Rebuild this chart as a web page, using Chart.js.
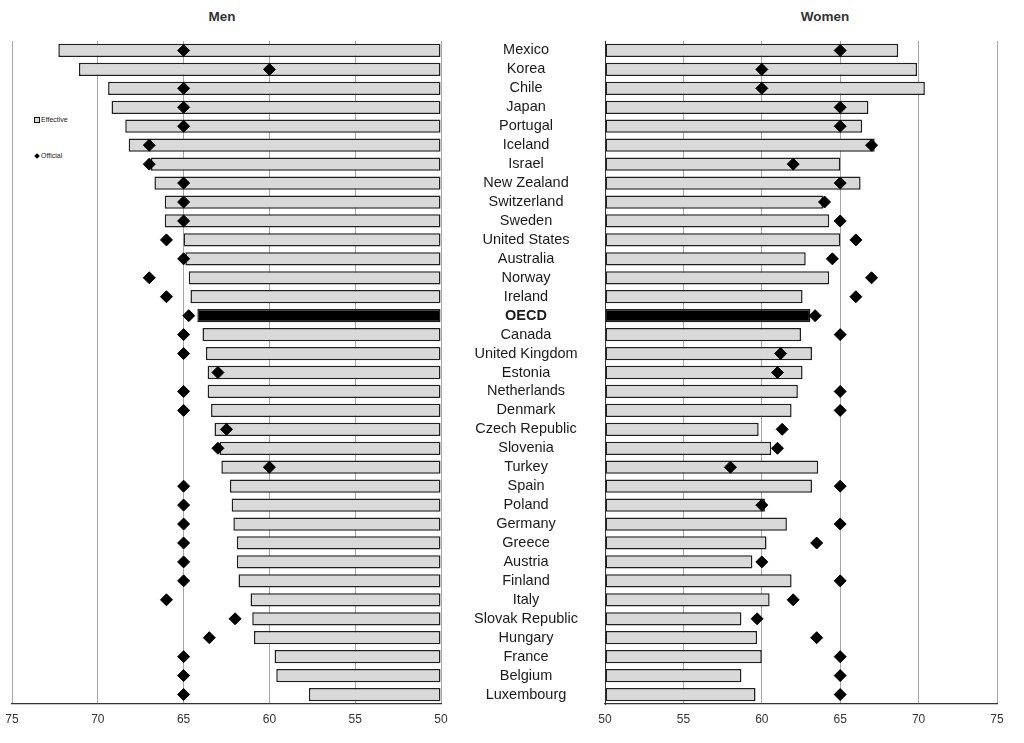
<!DOCTYPE html>
<html>
<head>
<meta charset="utf-8">
<script src="https://cdn.jsdelivr.net/npm/chart.js@4.4.1/dist/chart.umd.min.js"></script>
<style>
  html, body { margin: 0; padding: 0; background: #fff; width: 1024px; height: 743px; overflow: hidden; }
  body { position: relative; font-family: 'Liberation Sans', Arial, sans-serif; }
  .box { position: absolute; top: 0; height: 743px; }
  #menBox { left: 0; width: 460px; }
  #womenBox { left: 445px; width: 579px; }
  .title { position: absolute; top: 9px; font-weight: bold; font-size: 13.5px; color: #333; transform: translateX(-50%); white-space: nowrap; }
  .leg { position: absolute; font-size: 7px; color: #222; white-space: nowrap; line-height: 8px; }
  .sq { display: inline-block; width: 4px; height: 4px; border: 1px solid #111; background: #d9d9d9; margin-right: 1px; vertical-align: middle; }
  .dm { display: inline-block; width: 4px; height: 4px; background: #000; transform: rotate(45deg); margin-right: 2px; margin-left: 1px; vertical-align: middle; }
</style>
</head>
<body>
<div class="title" style="left:222px;">Men</div>
<div class="title" style="left:825px;">Women</div>
<div class="leg" style="left:34px; top:116px;"><span class="sq"></span>Effective</div>
<div class="leg" style="left:34px; top:152px;"><span class="dm"></span>Official</div>
<div class="box" id="menBox"><canvas id="men"></canvas></div>
<div class="box" id="womenBox"><canvas id="women"></canvas></div>
<script>
const categories = ["Mexico","Korea","Chile","Japan","Portugal","Iceland","Israel","New Zealand","Switzerland","Sweden","United States","Australia","Norway","Ireland","OECD","Canada","United Kingdom","Estonia","Netherlands","Denmark","Czech Republic","Slovenia","Turkey","Spain","Poland","Germany","Greece","Austria","Finland","Italy","Slovak Republic","Hungary","France","Belgium","Luxembourg"];

const menEffective = [72.3,71.1,69.4,69.2,68.4,68.2,66.9,66.7,66.1,66.1,65.0,64.9,64.7,64.6,64.2,63.9,63.7,63.6,63.6,63.4,63.2,62.9,62.8,62.3,62.2,62.1,61.9,61.9,61.8,61.1,61.0,60.9,59.7,59.6,57.7];
const menOfficial = [65,60,65,65,65,67,67,65,65,65,66,65,67,66,64.7,65,65,63,65,65,62.5,63,60,65,65,65,65,65,65,66,62,63.5,65,65,65];

const womenEffective = [68.7,69.9,70.4,66.8,66.4,67.2,65.0,66.3,63.9,64.3,65.0,62.8,64.3,62.6,63.1,62.5,63.2,62.6,62.3,61.9,59.8,60.6,63.6,63.2,60.2,61.6,60.3,59.4,61.9,60.5,58.7,59.7,60.0,58.7,59.6];
const womenOfficial = [65,60,60,65,65,67,62,65,64,65,66,64.5,67,66,63.4,65,61.2,61,65,65,61.3,61,58,65,60,65,63.5,60,65,62,59.7,63.5,65,65,65];

const ageTicks = [50,55,60,65,70,75];
const seriesNames = ["Effective","Official"];

Chart.defaults.font.family = "'Liberation Sans', Arial, sans-serif";
Chart.defaults.animation = false;

function datasets(eff, off) {
  return [
    {
      type: 'bar',
      label: seriesNames[0],
      data: eff,
      base: 50,
      backgroundColor: ctx => categories[ctx.dataIndex] === 'OECD' ? '#000000' : '#d9d9d9',
      borderColor: '#1f1f1f',
      borderWidth: 1.5,
      borderSkipped: false,
      barPercentage: 0.7,
      categoryPercentage: 1.0,
      order: 2
    },
    {
      type: 'line',
      label: seriesNames[1],
      data: off,
      showLine: false,
      pointStyle: 'rectRot',
      pointRadius: 6,
      pointBackgroundColor: '#000',
      pointBorderColor: '#000',
      pointBorderWidth: 1,
      order: 1
    }
  ];
}

function xScale(reverse) {
  return {
    type: 'linear',
    min: 50, max: 75,
    reverse: reverse,
    afterBuildTicks: s => { s.ticks = ageTicks.map(v => ({ value: v })); },
    grid: { color: '#a6a6a6', lineWidth: 1, drawTicks: false },
    border: { color: '#333', width: 1.2 },
    ticks: { color: '#333', font: { size: 12 }, padding: 8, maxRotation: 0 }
  };
}

new Chart(document.getElementById('men'), {
  data: { labels: categories, datasets: datasets(menEffective, menOfficial) },
  options: {
    indexAxis: 'y',
    responsive: true,
    maintainAspectRatio: false,
    layout: { padding: { left: 12, right: 19, top: 41, bottom: 8.6 } },
    plugins: { legend: { display: false }, tooltip: { enabled: false }, title: { display: false } },
    scales: {
      x: xScale(true),
      y: { type: 'category', display: false, grid: { display: false } }
    }
  }
});

new Chart(document.getElementById('women'), {
  data: { labels: categories, datasets: datasets(womenEffective, womenOfficial) },
  options: {
    indexAxis: 'y',
    responsive: true,
    maintainAspectRatio: false,
    layout: { padding: { left: 0, right: 27, top: 41, bottom: 8.6 } },
    plugins: { legend: { display: false }, tooltip: { enabled: false }, title: { display: false } },
    scales: {
      x: xScale(false),
      y: {
        type: 'category',
        afterFit: s => { s.width = 160; },
        grid: { display: false, drawTicks: false },
        border: { color: '#333', width: 1 },
        ticks: {
          crossAlign: 'center',
          padding: 27,
          color: '#1a1a1a',
          autoSkip: false,
          font: ctx => ({ size: 14.5, weight: (ctx.tick && ctx.tick.label === 'OECD') ? 'bold' : 'normal' })
        }
      }
    }
  }
});
</script>
</body>
</html>
